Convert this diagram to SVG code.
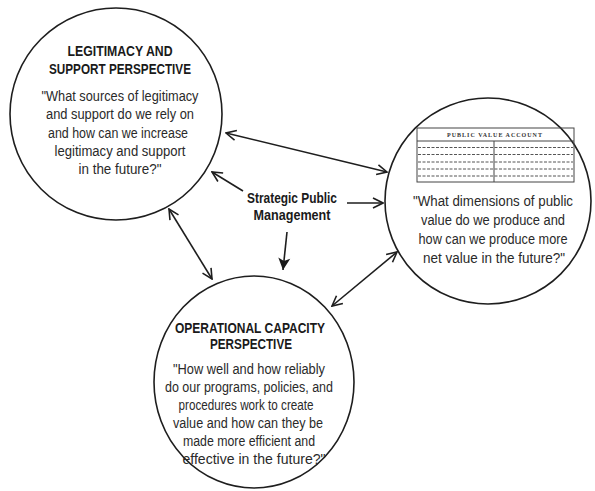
<svg xmlns="http://www.w3.org/2000/svg" width="595" height="491" viewBox="0 0 595 491">
<defs>
<style>
.circ{fill:#fff;stroke:#1e1e1e;stroke-width:1.6}
.title{font-family:"Liberation Sans",Arial,sans-serif;font-weight:bold;font-size:15.5px;fill:#1a1a1a;text-anchor:middle}
.body{font-family:"Liberation Sans",Arial,sans-serif;font-size:15.5px;fill:#2a2a2a;text-anchor:middle}
.conn{stroke:#1e1e1e;stroke-width:1.6;fill:none}
.tbl{stroke:#444;stroke-width:1;fill:none}
.dash{stroke:#555;stroke-width:1;stroke-dasharray:3 1.5;fill:none}
</style>
<marker id="open" viewBox="0 0 12 12" refX="11" refY="6" markerWidth="12" markerHeight="12" markerUnits="userSpaceOnUse" orient="auto-start-reverse">
<path d="M1,1 L11,6 L1,11" fill="none" stroke="#1e1e1e" stroke-width="1.6"/>
</marker>
<marker id="solid" viewBox="0 0 14 14" refX="13" refY="7" markerWidth="14" markerHeight="14" markerUnits="userSpaceOnUse" orient="auto">
<path d="M1,1 L13,7 L1,13 L4,7 Z" fill="#1a1a1a"/>
</marker>
</defs>
<rect width="595" height="491" fill="#fff"/>

<g id="legitimacy">
<circle class="circ" cx="116" cy="114" r="106"/>
<text class="title" x="120" y="56" textLength="105" lengthAdjust="spacingAndGlyphs">LEGITIMACY AND</text>
<text class="title" x="120" y="74" textLength="142" lengthAdjust="spacingAndGlyphs">SUPPORT PERSPECTIVE</text>
<text class="body" x="120" y="101" textLength="157" lengthAdjust="spacingAndGlyphs">"What sources of legitimacy</text>
<text class="body" x="120" y="119" textLength="148" lengthAdjust="spacingAndGlyphs">and support do we rely on</text>
<text class="body" x="118" y="138" textLength="140" lengthAdjust="spacingAndGlyphs">and how can we increase</text>
<text class="body" x="120" y="156" textLength="131" lengthAdjust="spacingAndGlyphs">legitimacy and support</text>
<text class="body" x="120" y="174" textLength="83" lengthAdjust="spacingAndGlyphs">in the future?"</text>
</g>

<g id="publicvalue">
<circle class="circ" cx="488" cy="201" r="103"/>
<g id="account-table">
<rect class="tbl" x="417" y="128" width="157" height="54"/>
<line class="tbl" x1="417" y1="141" x2="574" y2="141"/>
<line class="tbl" x1="494" y1="141" x2="494" y2="182"/>
<line class="dash" x1="418" y1="147.5" x2="573" y2="147.5"/>
<line class="dash" x1="418" y1="154.5" x2="573" y2="154.5"/>
<line class="dash" x1="418" y1="162" x2="573" y2="162"/>
<line class="dash" x1="418" y1="169" x2="573" y2="169"/>
<line class="dash" x1="418" y1="176" x2="573" y2="176"/>
<text x="495" y="137" font-family="Liberation Serif, serif" font-size="6" font-weight="bold" letter-spacing="1" fill="#333" text-anchor="middle">PUBLIC VALUE ACCOUNT</text>
</g>
<text class="body" x="493" y="206" font-size="15" textLength="160" lengthAdjust="spacingAndGlyphs">"What dimensions of public</text>
<text class="body" x="493" y="225" font-size="15" textLength="144" lengthAdjust="spacingAndGlyphs">value do we produce and</text>
<text class="body" x="493" y="244" font-size="15" textLength="149" lengthAdjust="spacingAndGlyphs">how can we produce more</text>
<text class="body" x="494" y="263" font-size="15" textLength="142" lengthAdjust="spacingAndGlyphs">net value in the future?"</text>
</g>

<g id="operational">
<ellipse class="circ" cx="254" cy="382" rx="100" ry="106"/>
<text class="title" x="250" y="333" textLength="150" lengthAdjust="spacingAndGlyphs">OPERATIONAL CAPACITY</text>
<text class="title" x="251" y="349" textLength="82" lengthAdjust="spacingAndGlyphs">PERSPECTIVE</text>
<text class="body" x="249" y="374" textLength="152" lengthAdjust="spacingAndGlyphs">"How well and how reliably</text>
<text class="body" x="249" y="392" textLength="168" lengthAdjust="spacingAndGlyphs">do our programs, policies, and</text>
<text class="body" x="246" y="410" textLength="135" lengthAdjust="spacingAndGlyphs">procedures work to create</text>
<text class="body" x="248" y="428" textLength="150" lengthAdjust="spacingAndGlyphs">value and how can they be</text>
<text class="body" x="249" y="446" textLength="132" lengthAdjust="spacingAndGlyphs">made more efficient and</text>
<text class="body" x="254" y="464" textLength="143" lengthAdjust="spacingAndGlyphs">effective in the future?"</text>
</g>

<g id="strategic">
<text class="title" x="292" y="203" font-size="15" textLength="90" lengthAdjust="spacingAndGlyphs">Strategic Public</text>
<text class="title" x="292" y="220" font-size="15" textLength="77" lengthAdjust="spacingAndGlyphs">Management</text>
</g>

<g id="connectors">
<line class="conn" x1="243" y1="191" x2="212" y2="172" marker-end="url(#open)"/>
<line class="conn" x1="347" y1="203" x2="383" y2="203" marker-end="url(#open)"/>
<line class="conn" x1="287" y1="232" x2="283" y2="270" marker-end="url(#solid)"/>
<line class="conn" x1="226" y1="133" x2="387" y2="172" marker-start="url(#open)" marker-end="url(#open)"/>
<line class="conn" x1="169" y1="209" x2="212" y2="279" marker-start="url(#open)" marker-end="url(#open)"/>
<line class="conn" x1="332" y1="306" x2="397" y2="252" marker-start="url(#open)" marker-end="url(#open)"/>
</g>
</svg>
